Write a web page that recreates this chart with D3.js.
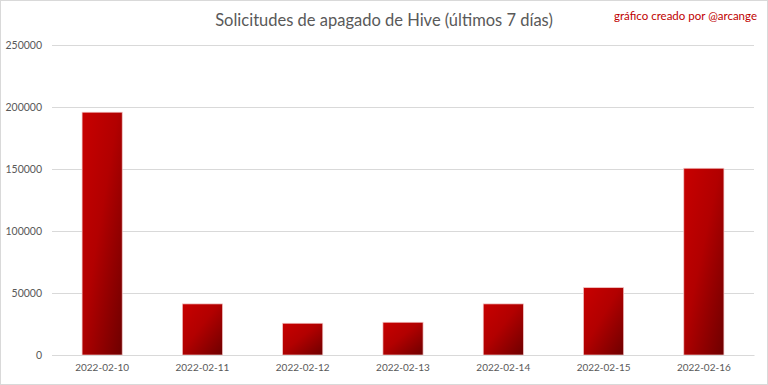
<!DOCTYPE html>
<html><head><meta charset="utf-8">
<script src="https://cdn.jsdelivr.net/npm/d3@7"></script>
<style>html,body{margin:0;padding:0;background:#fff;}svg{display:block;}</style>
</head><body>
<script>
const categories = ["2022-02-10","2022-02-11","2022-02-12","2022-02-13","2022-02-14","2022-02-15","2022-02-16"];
const values = [195800, 41200, 25600, 26400, 41200, 54300, 150600];
const yTicks = [0, 50000, 100000, 150000, 200000, 250000];
const title = "Solicitudes de apagado de Hive (últimos 7 días)";
const credit = "gráfico creado por @arcange";

const W = 768, H = 385;
const m = {left: 52, right: 14, top: 45, bottom: 30};
const svg = d3.select("body").append("svg").attr("width", W).attr("height", H);
const font = "Lato, 'Open Sans', sans-serif";

svg.append("rect").attr("x",0.5).attr("y",0.5).attr("width",W-1).attr("height",H-1)
  .attr("fill","#fff").attr("stroke","#d9d9d9");

const defs = svg.append("defs");
const grad = defs.append("linearGradient").attr("id","barGrad")
  .attr("x1","0").attr("y1","0").attr("x2","1").attr("y2","1");
grad.append("stop").attr("offset","0%").attr("stop-color","#c80000");
grad.append("stop").attr("offset","45%").attr("stop-color","#b20000");
grad.append("stop").attr("offset","100%").attr("stop-color","#6e0000");

const x = d3.scaleBand().domain(categories).range([m.left, W - m.right]).paddingInner(0.6).paddingOuter(0.3);
const y = d3.scaleLinear().domain([0, 250000]).range([H - m.bottom, m.top]);

const yAxis = svg.append("g").attr("transform", `translate(${m.left},0)`)
  .call(d3.axisLeft(y).tickValues(yTicks).tickSize(-(W - m.left - m.right)).tickPadding(10).tickFormat(d3.format("d")));
yAxis.select(".domain").remove();
yAxis.selectAll("line").attr("stroke","#d9d9d9").attr("stroke-width",1);
yAxis.selectAll("text").attr("fill","#595959").style("font-family",font).style("font-size","10.5px");

svg.append("g").selectAll("rect").data(values).join("rect")
  .attr("x",(d,i)=>x(categories[i]))
  .attr("y",d=>y(d))
  .attr("width",x.bandwidth())
  .attr("height",d=>y(0)-y(d))
  .attr("fill","url(#barGrad)")
  .attr("stroke","#f2c4c4").attr("stroke-width",0.7);

const xAxis = svg.append("g").attr("transform",`translate(0,${y(0)})`)
  .call(d3.axisBottom(x).tickSize(0).tickPadding(9));
xAxis.select(".domain").attr("stroke","#d9d9d9");
xAxis.selectAll("text").attr("fill","#595959").style("font-family",font).style("font-size","10px");

svg.append("text").attr("x",384).attr("y",26).attr("text-anchor","middle")
  .attr("fill","#595959").style("font-family",font).style("font-weight","400").style("font-size","16.5px").text(title);

svg.append("text").attr("x",757).attr("y",20).attr("text-anchor","end")
  .attr("fill","#c00000").style("font-family",font).style("font-size","11.5px").text(credit);
</script>
</body></html>
